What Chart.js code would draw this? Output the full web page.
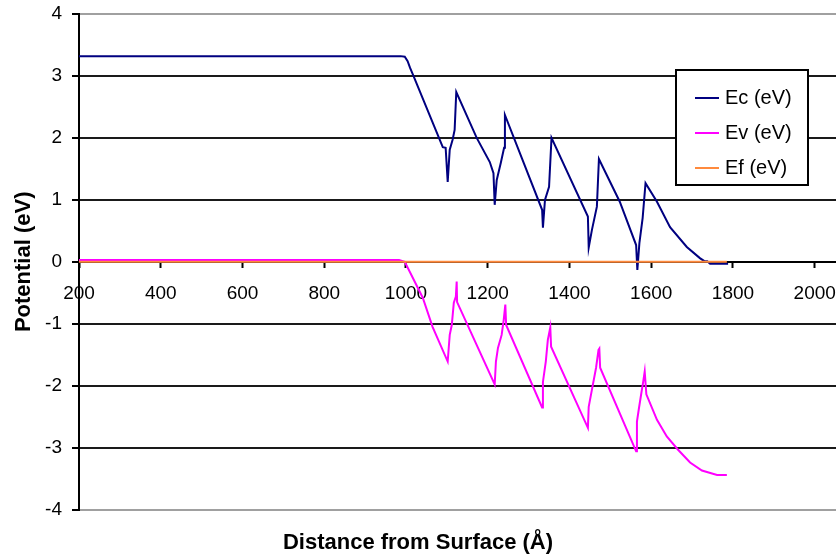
<!DOCTYPE html>
<html>
<head>
<meta charset="utf-8">
<script src="https://cdn.jsdelivr.net/npm/chart.js@4.4.1/dist/chart.umd.min.js"></script>
<style>
  html, body { margin: 0; padding: 0; background: #fff; }
</style>
</head>
<body>
<canvas id="chart" width="836" height="559"></canvas>
<script>
// Ec (eV) - conduction band edge, x in Angstrom
var ecX = [200, 987, 997, 1004, 1010, 1017, 1090, 1097, 1102, 1107, 1114, 1119, 1123,
    1173, 1205, 1214, 1217, 1222, 1232, 1240, 1242,
    1333, 1335, 1340, 1350, 1356,
    1445, 1447, 1455, 1467, 1472,
    1523, 1563, 1566, 1571, 1579, 1586,
    1614, 1646, 1687, 1719, 1730, 1737, 1744, 1788];
var ecY = [3.32, 3.32, 3.31, 3.24, 3.13, 3.02, 1.85, 1.84, 1.29, 1.81, 1.97, 2.13, 2.74,
    2.0, 1.61, 1.43, 0.92, 1.32, 1.6, 1.84, 2.37,
    0.84, 0.55, 1.0, 1.21, 2.0,
    0.73, 0.23, 0.52, 0.89, 1.66,
    0.97, 0.27, -0.13, 0.30, 0.71, 1.27,
    0.97, 0.56, 0.24, 0.06, 0.01, 0.01, -0.03, -0.03];

// Ev (eV) - valence band edge
var evX = [200, 983, 997, 1041, 1065, 1102,
    1107, 1112, 1117, 1122, 1124, 1125,
    1217, 1220, 1225, 1234, 1239, 1243, 1245,
    1333, 1335, 1342, 1347, 1353, 1355,
    1445, 1447, 1455, 1465, 1471, 1473, 1475,
    1563, 1565, 1570, 1576, 1580, 1584, 1588,
    1614, 1638, 1665, 1695, 1724, 1761, 1785];
var evY = [0.03, 0.03, 0.0, -0.58, -1.05, -1.61,
    -1.18, -1.02, -0.66, -0.56, -0.32, -0.65,
    -1.98, -1.61, -1.39, -1.18, -0.94, -0.69, -1.02,
    -2.35, -1.94, -1.61, -1.26, -1.06, -1.37,
    -2.68, -2.34, -2.06, -1.71, -1.42, -1.40, -1.71,
    -3.06, -2.58, -2.36, -2.11, -1.95, -1.77, -2.14,
    -2.55, -2.82, -3.03, -3.24, -3.37, -3.44, -3.44];

// Ef (eV) - Fermi level
var efX = [200, 1785];
var efY = [0, 0];

var xTicks = [200, 400, 600, 800, 1000, 1200, 1400, 1600, 1800, 2000];

function points(xs, ys) {
    return xs.map((x, i) => ({x: x, y: ys[i]}));
}

var fontName = '"Liberation Sans", Arial, sans-serif';

// legend box drawn inside the plot, like the original
var legendBox = {
    id: 'legendBox',
    afterDraw(chart) {
        var ctx = chart.ctx;
        var area = chart.chartArea;
        var left = area.right - 160;
        var top = area.top + 56;
        ctx.save();
        ctx.fillStyle = '#fff';
        ctx.fillRect(left, top, 132, 115);
        ctx.strokeStyle = '#000';
        ctx.lineWidth = 2;
        ctx.strokeRect(left, top, 132, 115);
        ctx.font = '20px ' + fontName;
        ctx.textBaseline = 'middle';
        chart.data.datasets.forEach((ds, i) => {
            var y = top + 28 + i * 35;
            ctx.strokeStyle = ds.borderColor;
            ctx.lineWidth = 2;
            ctx.beginPath();
            ctx.moveTo(left + 19, y);
            ctx.lineTo(left + 43, y);
            ctx.stroke();
            ctx.fillStyle = '#000';
            ctx.fillText(ds.label, left + 49, y);
        });
        ctx.restore();
    }
};

new Chart(document.getElementById('chart'), {
    type: 'line',
    data: {
        datasets: [
            {label: 'Ec (eV)', data: points(ecX, ecY), borderColor: '#000080', borderWidth: 2, order: 2},
            {label: 'Ev (eV)', data: points(evX, evY), borderColor: '#ff00ff', borderWidth: 2, order: 1},
            {label: 'Ef (eV)', data: points(efX, efY), borderColor: '#ff8a3d', borderWidth: 2, order: 0}
        ]
    },
    options: {
        responsive: false,
        animation: false,
        parsing: false,
        layout: {padding: {top: 14, left: 0, right: 0, bottom: 0}},
        elements: {point: {radius: 0}, line: {tension: 0}},
        plugins: {
            legend: {display: false},
            tooltip: {enabled: false},
            title: {
                display: true,
                position: 'bottom',
                text: 'Distance from Surface (Å)',
                color: '#000',
                font: {family: fontName, size: 22, weight: 'bold'},
                padding: {top: 20, bottom: 3}
            }
        },
        scales: {
            x: {
                type: 'linear',
                position: {y: 0},
                min: 200,
                max: 2052,
                afterBuildTicks: function(scale) {
                    scale.ticks = xTicks.map(v => ({value: v}));
                },
                afterFit: function(scale) {
                    scale.paddingLeft = 0;
                    scale.paddingRight = 0;
                },
                grid: {drawOnChartArea: false, drawTicks: true, tickLength: 5, tickColor: '#000', tickWidth: 2},
                border: {color: '#000', width: 2},
                ticks: {
                    color: '#000',
                    font: {family: fontName, size: 19},
                    padding: 16,
                    maxRotation: 0,
                    autoSkip: false,
                    callback: v => String(v)
                }
            },
            y: {
                type: 'linear',
                min: -4,
                max: 4,
                afterFit: function(scale) {
                    scale.width = 79;
                    scale.paddingTop = 0;
                    scale.paddingBottom = 0;
                },
                grid: {
                    color: ctx => (ctx.tick && Math.abs(ctx.tick.value) === 4) ? '#a0a0a0' : '#1a1a1a',
                    lineWidth: 2,
                    tickLength: 7,
                    tickColor: '#000',
                    tickWidth: 2
                },
                border: {color: '#000', width: 2},
                ticks: {stepSize: 1, color: '#000', font: {family: fontName, size: 19}, padding: 10},
                title: {
                    display: true,
                    text: 'Potential (eV)',
                    color: '#000',
                    font: {family: fontName, size: 22, weight: 'bold'},
                    padding: {top: 11, bottom: 0}
                }
            }
        }
    },
    plugins: [legendBox]
});
</script>
</body>
</html>
